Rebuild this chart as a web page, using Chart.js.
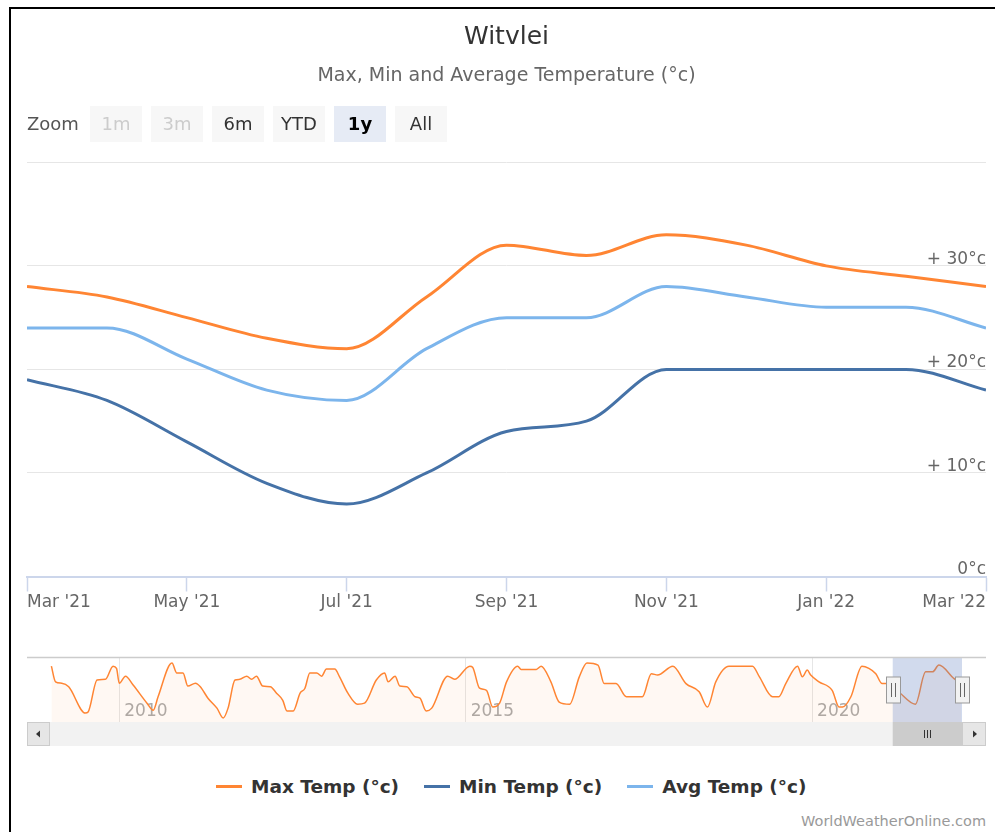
<!DOCTYPE html>
<html>
<head>
<meta charset="utf-8">
<script src="https://cdn.jsdelivr.net/npm/chart.js@4"></script>
<style>
html,body{margin:0;padding:0;background:#fff;width:995px;height:832px;overflow:hidden;font-family:"DejaVu Sans",sans-serif;}
#frame{position:absolute;left:9px;top:7px;width:995px;height:840px;border-top:2px solid #000;border-left:2px solid #000;pointer-events:none;}
#main{position:absolute;left:0;top:0;}
#nav{position:absolute;left:0;top:650px;}
#zoomlbl{position:absolute;left:27px;top:106px;height:36px;line-height:36px;font-size:18px;color:#555;}
.btn{position:absolute;top:106px;width:52px;height:36px;line-height:36px;text-align:center;font-size:18px;background:#f7f7f7;color:#333;}
.btn.dis{color:#cccccc;}
.btn.sel{background:#e6ebf5;color:#000;font-weight:bold;}
#legend{position:absolute;top:775px;left:216px;height:22px;display:flex;align-items:center;font-weight:bold;font-size:18.5px;color:#333;white-space:nowrap;}
#legend .sym{display:inline-block;width:26px;height:3px;margin-right:9px;}
#legend .item{display:flex;align-items:center;margin-right:25px;}
#credits{position:absolute;right:9px;top:813px;font-size:14.5px;color:#999;}
</style>
</head>
<body>
<canvas id="main" width="995" height="650"></canvas>
<canvas id="nav" width="995" height="100"></canvas>
<div id="zoomlbl">Zoom</div>
<div id="buttons"></div>
<div id="legend"></div>
<div id="credits">WorldWeatherOnline.com</div>
<div id="frame"></div>
<script>
// ---------- data ----------
const months = ["Mar '21","Apr '21","May '21","Jun '21","Jul '21","Aug '21","Sep '21","Oct '21","Nov '21","Dec '21","Jan '22","Feb '22","Mar '22"];
const maxTemp = [28, 27, 25, 23, 22, 27, 32, 31, 33, 32, 30, 29, 28];
const minTemp = [19, 17, 13, 9, 7, 10, 14, 15, 20, 20, 20, 20, 18];
const avgTemp = [24, 24, 21, 18, 17, 22, 25, 25, 28, 27, 26, 26, 24];
const seriesNames = ['Max Temp (°c)', 'Min Temp (°c)', 'Avg Temp (°c)'];
const seriesColors = ['#ff8533', '#4572a7', '#7cb5ec'];
const yTickValues = [0, 10, 20, 30, 40];
const zoomButtons = ['1m', '3m', '6m', 'YTD', '1y', 'All'];

// navigator (full history of Max Temp, decimal years)
const navYears = [2009.02,2009.08,2009.17,2009.27,2009.51,2009.55,2009.68,2009.80,2009.91,2009.96,2010.00,2010.09,2010.20,2010.40,2010.49,2010.56,2010.76,2010.83,2010.92,2010.99,2011.10,2011.17,2011.28,2011.41,2011.50,2011.57,2011.67,2011.74,2011.84,2011.91,2011.98,2012.07,2012.18,2012.27,2012.36,2012.42,2012.51,2012.61,2012.68,2012.75,2012.85,2012.92,2012.99,2013.11,2013.18,2013.30,2013.44,2013.54,2013.71,2013.83,2013.88,2013.98,2014.05,2014.15,2014.27,2014.34,2014.43,2014.51,2014.74,2014.84,2015.06,2015.10,2015.20,2015.30,2015.39,2015.49,2015.59,2015.75,2015.80,2016.02,2016.09,2016.23,2016.35,2016.50,2016.64,2016.75,2016.91,2017.00,2017.17,2017.32,2017.55,2017.68,2017.77,2017.99,2018.18,2018.37,2018.49,2018.61,2018.80,2019.04,2019.14,2019.24,2019.43,2019.52,2019.62,2019.79,2019.86,2019.93,2019.98,2020.10,2020.29,2020.39,2020.44,2020.56,2020.72,2020.82,2020.92,2021.01,2021.11,2021.25,2021.49,2021.64,2021.74,2021.83,2022.05,2022.15];
const navMax = [32.7,28.3,27.9,26.9,19.5,19.8,28.8,29.0,32.7,32.1,27.9,29.9,27.4,22.3,20.3,24.1,33.6,30.8,30.8,27.1,27.9,26.9,23.7,20.9,18.1,20.9,28.8,29.0,29.9,29.0,29.9,27.1,26.9,25.1,23.1,20.1,20.1,25.1,26.5,30.8,30.8,29.9,31.9,31.9,29.7,25.1,22.0,22.3,28.8,30.8,28.3,29.9,27.1,26.9,24.1,23.7,20.1,20.9,29.9,29.0,32.7,32.4,26.5,25.9,21.2,22.3,28.3,32.7,31.8,31.8,32.7,28.3,22.6,22.0,29.7,33.6,33.0,27.8,27.8,24.1,24.1,30.6,30.2,32.7,27.8,25.5,21.2,28.3,32.7,32.7,32.7,29.7,24.1,24.1,27.8,32.7,29.7,31.6,30.2,28.3,25.9,21.2,21.2,24.1,32.7,32.1,30.6,27.8,27.8,25.5,22.0,31.1,31.1,33.0,29.2,27.9];
const navYearTicks = [2010, 2015, 2020];
const navStart = 2009.0, navEnd = 2022.164;
const selFrom = 2021.164, selTo = 2022.164;

const F = '"DejaVu Sans", sans-serif';

// ---------- HTML bits (buttons, legend) ----------
const btnWrap = document.getElementById('buttons');
zoomButtons.forEach((t, i) => {
  const d = document.createElement('div');
  d.className = 'btn' + (i < 2 ? ' dis' : '') + (t === '1y' ? ' sel' : '');
  d.style.left = (90 + i * 61) + 'px';
  d.textContent = t;
  btnWrap.appendChild(d);
});
const leg = document.getElementById('legend');
seriesNames.forEach((n, i) => {
  const it = document.createElement('div'); it.className = 'item';
  const s = document.createElement('span'); s.className = 'sym'; s.style.background = seriesColors[i];
  const t = document.createElement('span'); t.textContent = n;
  it.appendChild(s); it.appendChild(t); leg.appendChild(it);
});

// ---------- main chart ----------
const toXY = arr => arr.map((v, i) => ({x: i, y: v}));
const seriesData = [maxTemp, minTemp, avgTemp];
new Chart(document.getElementById('main'), {
  type: 'line',
  data: {
    datasets: seriesData.map((d, i) => ({
      label: seriesNames[i], data: toXY(d), borderColor: seriesColors[i], backgroundColor: seriesColors[i],
      borderWidth: 3, pointRadius: 0, cubicInterpolationMode: 'monotone', fill: false
    }))
  },
  options: {
    responsive: false, animation: false, devicePixelRatio: 1,
    layout: {padding: {left: 27, right: 9, top: 0, bottom: 0}},
    plugins: {
      legend: {display: false}, tooltip: {enabled: false},
      title: {display: true, text: 'Witvlei', color: '#333', font: {family: F, size: 25, weight: 'normal'}, padding: {top: 22, bottom: 0}},
      subtitle: {display: true, text: 'Max, Min and Average Temperature (°c)', color: '#666', font: {family: F, size: 19}, padding: {top: 13, bottom: 74.5}}
    },
    scales: {
      x: {
        type: 'linear', min: 0, max: months.length - 1,
        afterFit: s => { s.height = 73.5; },
        ticks: {stepSize: 2, autoSkip: false, maxRotation: 0, align: 'inner', color: '#666', padding: 1,
          font: {family: F, size: 17}, callback: v => months[v] ?? ''},
        grid: {drawOnChartArea: false, drawTicks: true, tickLength: 15, tickColor: '#ccd6eb', tickWidth: 1.5},
        border: {display: true, color: '#ccd6eb', width: 2}
      },
      y: {
        position: 'right', min: yTickValues[0], max: yTickValues[yTickValues.length - 1],
        afterFit: s => { s.width = 0; },
        afterBuildTicks: s => { s.ticks = yTickValues.map(v => ({value: v})); },
        ticks: {mirror: true, padding: 0, labelOffset: -6.5, color: '#666', font: {family: F, size: 17},
          callback: v => v === 0 ? '0°c' : (v === 40 ? '' : '+ ' + v + '°c')},
        grid: {color: '#e6e6e6', lineWidth: 1, drawTicks: false},
        border: {display: false}
      }
    }
  }
});

// ---------- navigator ----------
const navDecor = {
  id: 'navDecor',
  afterDraw(chart) {
    const {ctx, chartArea: a, scales: {x}} = chart;
    const x1 = x.getPixelForValue(selFrom), x2 = x.getPixelForValue(selTo);
    ctx.save();
    // selection mask
    ctx.fillStyle = 'rgba(102,133,194,0.3)';
    ctx.fillRect(x1, a.top, x2 - x1, a.bottom - a.top);
    // outline
    ctx.strokeStyle = '#cccccc'; ctx.lineWidth = 1.5;
    ctx.beginPath(); ctx.moveTo(27, a.top - 0.5); ctx.lineTo(986, a.top - 0.5); ctx.stroke();
    // scrollbar track
    const sy = a.bottom, sh = 24;
    ctx.fillStyle = '#f2f2f2'; ctx.fillRect(27, sy, 959, sh);
    // thumb
    ctx.fillStyle = '#cccccc'; ctx.fillRect(x1, sy, x2 - x1, sh);
    const cx = Math.round((x1 + x2) / 2) + 0.5;
    ctx.strokeStyle = '#333'; ctx.lineWidth = 1;
    ctx.beginPath();
    [-3, 0, 3].forEach(o => { ctx.moveTo(cx + o, sy + 8); ctx.lineTo(cx + o, sy + 16); });
    ctx.stroke();
    // buttons
    ctx.fillStyle = '#e6e6e6'; ctx.strokeStyle = '#cccccc';
    ctx.fillRect(27, sy, 23, sh); ctx.strokeRect(27.5, sy + 0.5, 22, sh - 1);
    ctx.fillRect(962, sy, 24, sh); ctx.strokeRect(962.5, sy + 0.5, 23, sh - 1);
    ctx.fillStyle = '#333';
    ctx.beginPath(); ctx.moveTo(36, sy + 12); ctx.lineTo(40, sy + 8.5); ctx.lineTo(40, sy + 15.5); ctx.closePath(); ctx.fill();
    ctx.beginPath(); ctx.moveTo(977, sy + 12); ctx.lineTo(973, sy + 8.5); ctx.lineTo(973, sy + 15.5); ctx.closePath(); ctx.fill();
    // handles
    const my = (a.top + a.bottom) / 2;
    [x1, x2].forEach(hx => {
      const l = Math.round(hx) - 7 + 0.5;
      ctx.fillStyle = '#f2f2f2'; ctx.strokeStyle = '#999999'; ctx.lineWidth = 1;
      ctx.fillRect(l, my - 13, 14, 26); ctx.strokeRect(l, my - 13, 14, 26);
      ctx.strokeStyle = '#666';
      ctx.beginPath();
      ctx.moveTo(l + 5, my - 7); ctx.lineTo(l + 5, my + 7);
      ctx.moveTo(l + 9, my - 7); ctx.lineTo(l + 9, my + 7);
      ctx.stroke();
    });
    ctx.restore();
  }
};

new Chart(document.getElementById('nav'), {
  type: 'line',
  data: {
    datasets: [{
      data: navYears.map((y, i) => ({x: y, y: navMax[i]})),
      borderColor: seriesColors[0], borderWidth: 1.5, pointRadius: 0,
      cubicInterpolationMode: 'monotone', fill: 'start', backgroundColor: 'rgba(255,133,51,0.06)'
    }]
  },
  options: {
    responsive: false, animation: false, devicePixelRatio: 1,
    layout: {padding: {left: 50, right: 33, top: 8, bottom: 28}},
    plugins: {legend: {display: false}, tooltip: {enabled: false}},
    scales: {
      x: {
        type: 'linear', min: navStart, max: navEnd,
        afterFit: s => { s.height = 0; },
        afterBuildTicks: s => { s.ticks = navYearTicks.map(v => ({value: v})); },
        ticks: {mirror: true, align: 'start', labelOffset: 5, padding: 0, color: '#aaa', font: {family: F, size: 17},
          autoSkip: false, maxRotation: 0, callback: v => String(v)},
        grid: {color: '#e6e6e6', drawTicks: false},
        border: {display: false}
      },
      y: {display: false, min: 17, max: 35}
    }
  },
  plugins: [navDecor]
});
</script>
</body>
</html>
